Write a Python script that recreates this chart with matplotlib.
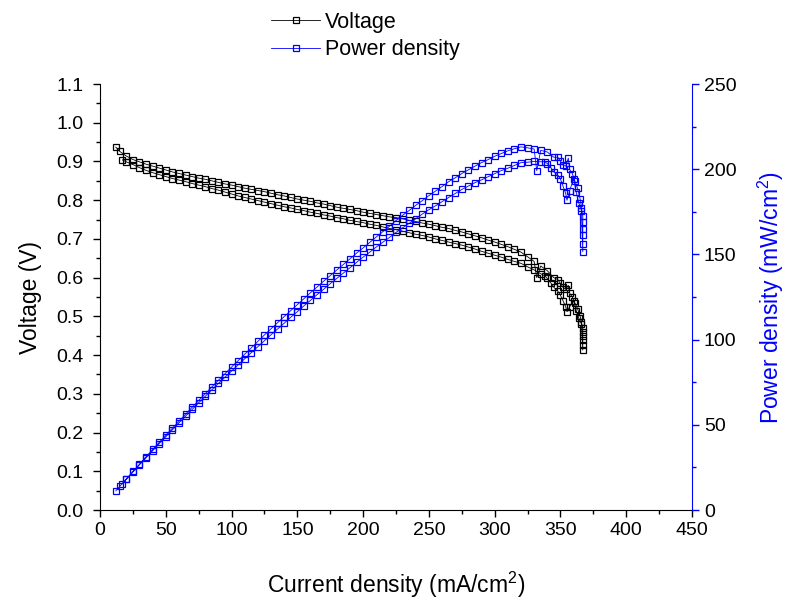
import matplotlib
matplotlib.use("Agg")
import matplotlib.pyplot as plt
import numpy as np
from matplotlib.ticker import MultipleLocator

plt.rcParams["font.family"] = ["Liberation Sans", "DejaVu Sans"]

# forward sweep (upper branch)
i_up = [12, 15, 20, 25, 30, 35, 40, 45, 50, 55, 60, 65, 70, 75, 80, 85, 90, 95,
        100, 105, 110, 115, 120, 125, 130, 135, 140, 145, 150, 155, 160, 165,
        170, 175, 180, 185, 190, 195, 200, 205, 210, 215, 220, 225, 230, 235,
        240, 245, 250, 255, 260, 265, 270, 275, 280, 285, 290, 295, 300, 305,
        310, 315, 320, 325, 330, 332, 335, 340, 345, 348, 350, 352, 354, 356,
        357, 359, 361, 363, 365, 366, 367, 367, 367, 367, 367, 367]
v_up = [0.937, 0.926, 0.914, 0.905, 0.899, 0.893, 0.888, 0.883, 0.878, 0.873,
        0.869, 0.865, 0.861, 0.857, 0.854, 0.850, 0.846, 0.842, 0.839, 0.835,
        0.831, 0.828, 0.825, 0.822, 0.818, 0.814, 0.811, 0.807, 0.803, 0.800,
        0.797, 0.793, 0.790, 0.786, 0.782, 0.779, 0.776, 0.773, 0.769, 0.766,
        0.763, 0.760, 0.757, 0.755, 0.752, 0.748, 0.745, 0.741, 0.738, 0.734,
        0.730, 0.727, 0.722, 0.718, 0.713, 0.708, 0.703, 0.697, 0.692, 0.686,
        0.680, 0.673, 0.666, 0.654, 0.642, 0.600, 0.630, 0.618, 0.600, 0.595,
        0.585, 0.575, 0.570, 0.580, 0.560, 0.550, 0.535, 0.520, 0.500, 0.485,
        0.470, 0.460, 0.450, 0.440, 0.425, 0.413]
p_up = [11.24, 13.89, 18.28, 22.63, 26.97, 31.26, 35.52, 39.74, 43.90, 48.02,
        52.14, 56.23, 60.27, 64.28, 68.32, 72.25, 76.14, 79.99, 83.90, 87.68,
        91.41, 95.22, 99.00, 102.75, 106.34, 109.89, 113.54, 117.02, 120.45,
        124.00, 127.52, 130.85, 134.30, 137.55, 140.76, 144.12, 147.44, 150.74,
        153.80, 157.03, 160.23, 163.40, 166.54, 169.88, 172.96, 175.78, 178.80,
        181.55, 184.50, 187.17, 189.80, 192.66, 194.94, 197.45, 199.64, 201.78,
        203.87, 205.62, 207.60, 209.23, 210.80, 212.00, 213.12, 212.55, 211.86,
        199.20, 211.05, 210.12, 207.00, 207.06, 204.75, 202.40, 201.78, 206.48,
        199.92, 197.45, 193.14, 188.76, 182.50, 177.51, 172.49, 168.82, 165.15,
        161.48, 155.98, 151.57]

# return sweep (lower branch), listed in increasing current
i_low = [17, 20, 25, 30, 35, 40, 45, 50, 55, 60, 65, 70, 75, 80, 85, 90, 95,
         100, 105, 110, 115, 120, 125, 130, 135, 140, 145, 150, 155, 160, 165,
         170, 175, 180, 185, 190, 195, 200, 205, 210, 215, 220, 225, 230, 235,
         240, 245, 250, 255, 260, 265, 270, 275, 280, 285, 290, 295, 300, 305,
         310, 315, 320, 325, 330, 335, 338, 340, 343, 345, 348, 350, 352, 354,
         355, 357, 360, 362, 364, 366]
v_low = [0.904, 0.899, 0.892, 0.884, 0.877, 0.871, 0.866, 0.861, 0.856, 0.852,
         0.848, 0.843, 0.839, 0.835, 0.830, 0.826, 0.821, 0.816, 0.811, 0.807,
         0.803, 0.799, 0.795, 0.791, 0.787, 0.783, 0.780, 0.776, 0.773, 0.769,
         0.766, 0.762, 0.759, 0.755, 0.752, 0.748, 0.745, 0.742, 0.738, 0.735,
         0.731, 0.727, 0.724, 0.720, 0.716, 0.712, 0.709, 0.705, 0.700, 0.696,
         0.692, 0.688, 0.684, 0.679, 0.674, 0.668, 0.663, 0.658, 0.653, 0.647,
         0.642, 0.637, 0.628, 0.620, 0.610, 0.605, 0.598, 0.585, 0.575, 0.565,
         0.555, 0.540, 0.525, 0.512, 0.525, 0.540, 0.515, 0.495, 0.480]
p_low = [15.37, 17.98, 22.30, 26.52, 30.70, 34.84, 38.97, 43.05, 47.08, 51.12,
         55.12, 59.01, 62.93, 66.80, 70.55, 74.34, 78.00, 81.60, 85.16, 88.77,
         92.35, 95.88, 99.38, 102.83, 106.25, 109.62, 113.10, 116.40, 119.82,
         123.04, 126.39, 129.54, 132.83, 135.90, 139.12, 142.12, 145.28, 148.40,
         151.29, 154.35, 157.17, 159.94, 162.90, 165.60, 168.26, 170.88, 173.71,
         176.25, 178.50, 180.96, 183.38, 185.76, 188.10, 190.12, 192.09, 193.72,
         195.59, 197.40, 199.17, 200.57, 202.23, 203.84, 204.10, 204.60, 204.35,
         204.49, 203.32, 200.66, 198.38, 196.62, 194.25, 190.08, 185.85, 181.76,
         187.43, 194.40, 186.43, 180.18, 175.68]

current = np.concatenate([i_up, i_low[::-1]])
voltage = np.concatenate([v_up, v_low[::-1]])
power = np.concatenate([p_up, p_low[::-1]])

fig = plt.figure(figsize=(7.92, 6.01), dpi=100)
ax = fig.add_axes([0.1263, 0.1514, 0.7474, 0.7088])
ax2 = ax.twinx()

mk = dict(marker="s", markersize=3.8, markerfacecolor="none", markeredgewidth=0.9, linewidth=0.6)
l1, = ax.plot(current, voltage, color="black", label="Voltage", **mk)
l2, = ax2.plot(current, power, color="blue", label="Power density", **mk)

ax.set_xlim(0, 450)
ax.set_ylim(0, 1.1)
ax2.set_ylim(0, 250)

ax.xaxis.set_major_locator(MultipleLocator(50))
ax.xaxis.set_minor_locator(MultipleLocator(25))
ax.yaxis.set_major_locator(MultipleLocator(0.1))
ax.yaxis.set_minor_locator(MultipleLocator(0.05))
ax2.yaxis.set_major_locator(MultipleLocator(50))
ax2.yaxis.set_minor_locator(MultipleLocator(25))
ax.yaxis.set_major_formatter(plt.FormatStrFormatter("%.1f"))

for a in (ax, ax2):
    a.spines["top"].set_visible(False)
ax.spines["right"].set_visible(False)
ax2.spines["left"].set_visible(False)
ax2.spines["bottom"].set_visible(False)
ax2.spines["right"].set_color("blue")

ax.tick_params(axis="both", which="major", direction="out", length=5, width=1, labelsize=14)
ax.tick_params(axis="y", which="major", pad=7)
ax.tick_params(axis="both", which="minor", direction="out", length=3, width=1)
ax2.tick_params(axis="y", which="major", direction="out", length=5, width=1, color="blue", labelsize=14)
ax2.tick_params(axis="y", which="minor", direction="out", length=3, width=1, color="blue")

ax.set_xlabel(r"Current density (mA/cm$\mathregular{^2}$)", fontsize=16.5, labelpad=22)
ax.set_ylabel("Voltage (V)", fontsize=16.5, labelpad=10)
ax2.set_ylabel(r"Power density (mW/cm$\mathregular{^2}$)", fontsize=16.5, color="blue", labelpad=14)

fig.legend(handles=[l1, l2], loc="upper left", bbox_to_anchor=(0.327, 1.0),
           frameon=False, fontsize=15.5, handlelength=2.3, handletextpad=0.2,
           labelspacing=0.3, numpoints=1, borderaxespad=0.15)

fig.savefig("out.png", dpi=100)
